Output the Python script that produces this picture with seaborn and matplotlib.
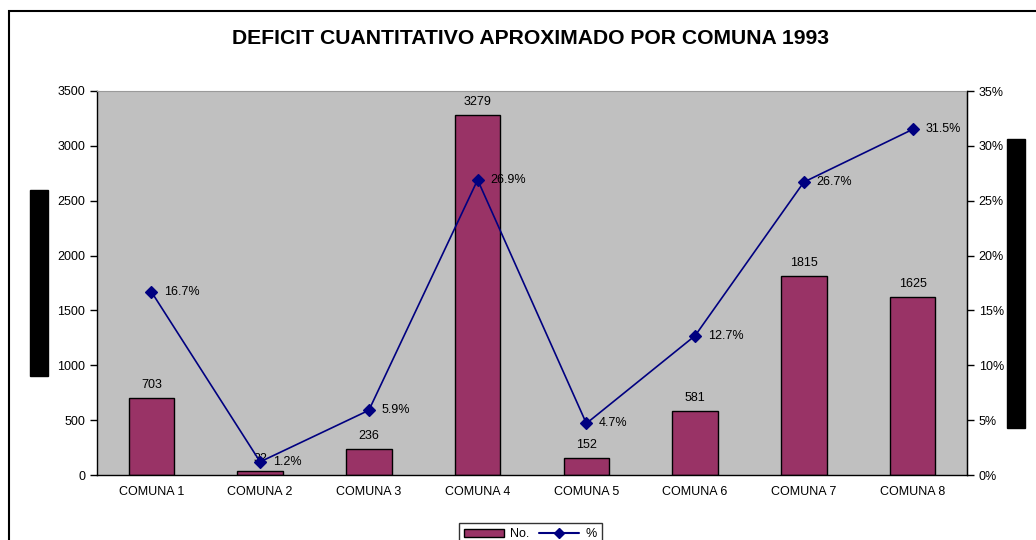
import pandas as pd
import seaborn as sns
import matplotlib.pyplot as plt
from matplotlib.patches import Rectangle
from matplotlib.lines import Line2D
from matplotlib.ticker import MultipleLocator, FixedLocator, PercentFormatter

comunas = ['COMUNA 1', 'COMUNA 2', 'COMUNA 3', 'COMUNA 4',
           'COMUNA 5', 'COMUNA 6', 'COMUNA 7', 'COMUNA 8']
deficit = [703, 32, 236, 3279, 152, 581, 1815, 1625]
porcentaje = [16.7, 1.2, 5.9, 26.9, 4.7, 12.7, 26.7, 31.5]

df = pd.DataFrame({'comuna': comunas, 'no': deficit, 'pct': porcentaje})

sns.set_style('white')
plt.rcParams['font.family'] = ['Liberation Sans', 'DejaVu Sans']
plt.rcParams['text.color'] = 'black'
plt.rcParams['xtick.color'] = 'black'
plt.rcParams['ytick.color'] = 'black'
plt.rcParams['axes.labelcolor'] = 'black'

bar_color = '#993366'
line_color = '#000080'
fs = 9

fig = plt.figure(figsize=(10.36, 5.4), dpi=100)
ax = fig.add_axes([97 / 1036, 1 - 475 / 540, 870 / 1036, 384 / 540])
ax.set_facecolor('#C0C0C0')

sns.barplot(data=df, x='comuna', y='no', ax=ax, color=bar_color,
            saturation=1, width=0.42, edgecolor='black', linewidth=1)
ax.bar_label(ax.containers[0], labels=[str(v) for v in deficit],
             padding=5, fontsize=fs)

ax.set_ylim(0, 3500)
ax.set_xlim(-0.5, len(comunas) - 0.5)
ax.yaxis.set_major_locator(MultipleLocator(500))
ax.set_xlabel('')
ax.set_ylabel('')
ax.tick_params(axis='y', labelsize=fs, length=5, width=1, direction='out')
ax.tick_params(axis='x', which='major', length=0, labelsize=fs, pad=8)
ax.xaxis.set_minor_locator(FixedLocator([i - 0.5 for i in range(len(comunas) + 1)]))
ax.tick_params(axis='x', which='minor', length=5, width=1, direction='out')

for s in ['left', 'bottom', 'right']:
    ax.spines[s].set_color('black')
    ax.spines[s].set_linewidth(1)
ax.spines['top'].set_color('#9a9a9a')

ax2 = ax.twinx()
sns.pointplot(data=df, x='comuna', y='pct', ax=ax2, color=line_color,
              markers='D', markersize=6, linewidth=1.2)
ax2.set_ylim(0, 35)
ax2.set_xlim(-0.5, len(comunas) - 0.5)
ax2.yaxis.set_major_locator(MultipleLocator(5))
ax2.yaxis.set_major_formatter(PercentFormatter(decimals=0))
ax2.set_ylabel('')
ax2.tick_params(axis='y', labelsize=fs, length=5, width=1, direction='out')
for s in ax2.spines.values():
    s.set_visible(False)
ax2.spines['right'].set_visible(True)
ax2.spines['right'].set_color('black')

for i, v in enumerate(porcentaje):
    ax2.annotate(f'{v:.1f}%', (i, v), xytext=(9, 0), textcoords='offset points',
                 ha='left', va='center', fontsize=fs)

fig.text(530 / 1036, 1 - 38 / 540, 'DEFICIT CUANTITATIVO APROXIMADO POR COMUNA 1993',
         ha='center', va='center', fontsize=15.2, fontweight='bold')

# redacted axis titles
fig.add_artist(Rectangle((30 / 1036, 1 - 376 / 540), 18 / 1036, 186 / 540,
                         transform=fig.transFigure, color='black'))
fig.add_artist(Rectangle((1007 / 1036, 1 - 428 / 540), 18 / 1036, 289 / 540,
                         transform=fig.transFigure, color='black'))

# outer chart border
fig.add_artist(Rectangle((9 / 1036, -0.1), 1.2, 1.1 - 11 / 540,
                         transform=fig.transFigure, fill=False,
                         edgecolor='black', linewidth=1.5))

handles = [Rectangle((0, 0), 1, 1, facecolor=bar_color, edgecolor='black'),
           Line2D([], [], color=line_color, marker='D', markersize=5)]
fig.legend(handles, ['No.', '%'], ncol=2, loc='upper center',
           bbox_to_anchor=(530 / 1036, 1 - 517 / 540), fontsize=fs,
           frameon=True, fancybox=False, edgecolor='black',
           handlelength=3.2, columnspacing=0.8, handletextpad=0.5,
           borderpad=0.4)

fig.savefig('out.png', dpi=100)
